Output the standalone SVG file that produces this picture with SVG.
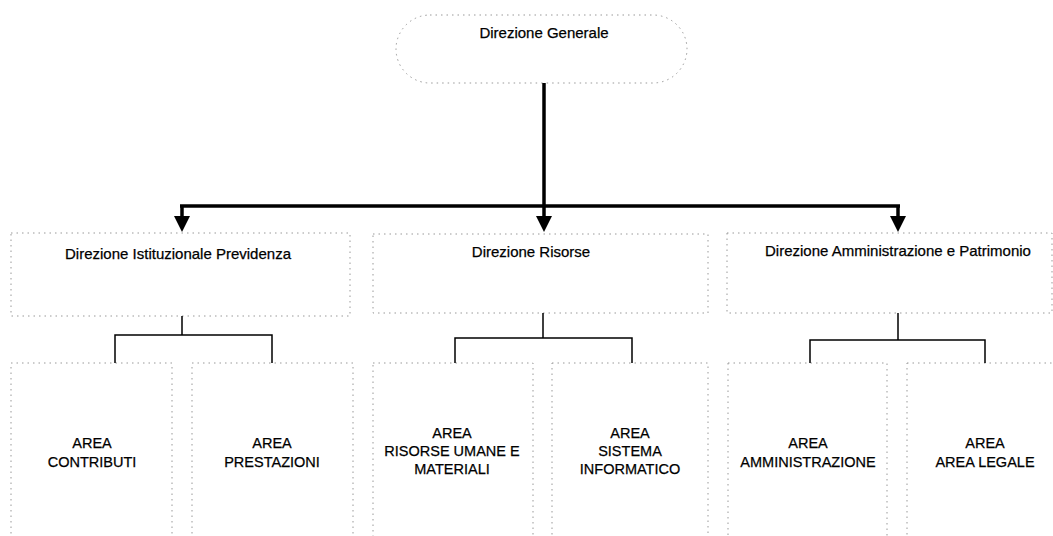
<svg xmlns="http://www.w3.org/2000/svg" width="1053" height="536" viewBox="0 0 1053 536">
<style>
.box{fill:#fff;stroke:#999;stroke-width:1;stroke-dasharray:1.5 4}
.t{font-family:"Liberation Sans",Arial,sans-serif;font-size:15px;fill:#000;text-anchor:middle;stroke:#000;stroke-width:0.25}
.a{font-family:"Liberation Sans",Arial,sans-serif;font-size:14.5px;fill:#000;text-anchor:middle;stroke:#000;stroke-width:0.25}
.main{fill:none;stroke:#000;stroke-width:3.5}
.sub{fill:none;stroke:#000;stroke-width:1.5}
</style>
<rect width="1053" height="536" fill="#fff"/>
<g id="n-generale">
<rect class="box" x="396" y="15" width="291" height="68" rx="34" ry="34"/>
<text class="t" x="544" y="38">Direzione Generale</text>
</g>
<g id="n-previdenza">
<rect class="box" x="11" y="233" width="339" height="83"/>
<text class="t" x="178" y="259">Direzione Istituzionale Previdenza</text>
</g>
<g id="n-risorse">
<rect class="box" x="373" y="234" width="335" height="79"/>
<text class="t" x="531" y="257">Direzione Risorse</text>
</g>
<g id="n-amministrazione">
<rect class="box" x="727" y="233" width="325" height="80"/>
<text class="t" x="898" y="256">Direzione Amministrazione e Patrimonio</text>
</g>
<g id="n-contributi">
<rect class="box" x="11" y="363" width="161" height="180"/>
<text class="a" x="92" y="448">AREA</text>
<text class="a" x="92" y="467">CONTRIBUTI</text>
</g>
<g id="n-prestazioni">
<rect class="box" x="192" y="363" width="161" height="180"/>
<text class="a" x="272" y="448">AREA</text>
<text class="a" x="272" y="467">PRESTAZIONI</text>
</g>
<g id="n-risorseumane">
<rect class="box" x="373" y="363" width="160" height="180"/>
<text class="a" x="452" y="438">AREA</text>
<text class="a" x="452" y="456">RISORSE UMANE E</text>
<text class="a" x="452" y="474">MATERIALI</text>
</g>
<g id="n-sistema">
<rect class="box" x="552" y="363" width="156" height="180"/>
<text class="a" x="630" y="438">AREA</text>
<text class="a" x="630" y="456">SISTEMA</text>
<text class="a" x="630" y="474">INFORMATICO</text>
</g>
<g id="n-areaamm">
<rect class="box" x="728" y="363" width="159" height="180"/>
<text class="a" x="808" y="448">AREA</text>
<text class="a" x="808" y="467">AMMINISTRAZIONE</text>
</g>
<g id="n-legale">
<rect class="box" x="907" y="363" width="156" height="180"/>
<text class="a" x="985" y="448">AREA</text>
<text class="a" x="985" y="467">AREA LEGALE</text>
</g>
<g id="connectors">
<path class="main" d="M544,83 V206"/>
<path class="main" d="M180,206 H900"/>
<path class="main" d="M182,206 V218"/>
<path class="main" d="M544,206 V218"/>
<path class="main" d="M898,206 V218"/>
<path d="M174,216 H190 L182,232 Z" fill="#000"/>
<path d="M536,216 H552 L544,232 Z" fill="#000"/>
<path d="M890,216 H906 L898,232 Z" fill="#000"/>
<path class="sub" d="M182,316 V335 M115,363 V335 H272 V363"/>
<path class="sub" d="M543,313 V338 M455,363 V338 H632 V363"/>
<path class="sub" d="M898,313 V340 M810,363 V340 H985 V363"/>
</g>
</svg>
